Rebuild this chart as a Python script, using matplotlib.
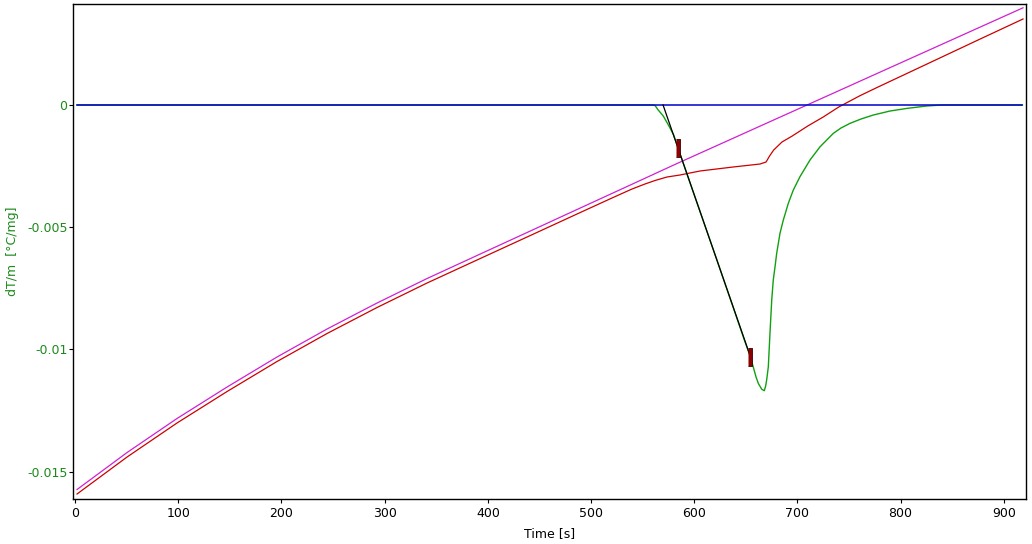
import numpy as np
import matplotlib
matplotlib.use("Agg")
import matplotlib.pyplot as plt

# magenta curve (reference / extrapolated)
t_mag = [1.9, 50.4, 98.8, 147.3, 195.7, 244.2, 292.6, 341.1, 389.5, 438.0,
         486.4, 534.9, 583.3, 631.8, 680.2, 728.7, 777.1, 825.6, 874.0, 918.6]
v_mag = [-0.015733, -0.014219, -0.012827, -0.011539, -0.010311, -0.009165,
         -0.008102, -0.007099, -0.006158, -0.005217, -0.004276, -0.003335,
         -0.002394, -0.001473, -0.000552, 0.000368, 0.001289, 0.002210,
         0.003130, 0.003977]

# red curve (sample)
t_red = [1.9, 50.4, 98.8, 147.3, 195.7, 244.2, 292.6, 341.1, 389.5, 438.0,
         486.4, 520.3, 539.7, 552.3, 562.0, 573.6, 586.2, 605.6, 637.6, 663.8,
         669.6, 673, 677, 685, 695, 710, 725, 740, 760, 777.1, 825.6, 874.0,
         918.6]
v_red = [-0.015917, -0.014403, -0.013011, -0.011723, -0.010495, -0.009349,
         -0.008286, -0.007283, -0.006342, -0.005401, -0.004460, -0.003805,
         -0.003437, -0.003232, -0.003089, -0.002946, -0.002864, -0.002700,
         -0.002537, -0.002414, -0.002332, -0.002087, -0.001841, -0.001514,
         -0.001268, -0.000859, -0.000491, -0.000082, 0.000368, 0.000716,
         0.001678, 0.002639, 0.003519]

# green curve (dT/m)
t_grn = [2, 560, 562, 565, 570, 575, 580, 590, 620, 649.2, 654.5, 659.9,
         662.1, 665.4, 667.9, 669.2, 670.2, 671.8, 673.4, 675.1, 676.6, 678.3,
         679.9, 683.1, 686.3, 691.2, 696.0, 702.5, 712.2, 721.9, 734.8, 742.2,
         751.0, 761.6, 773.5, 789.7, 805.9, 825.3, 840, 918]
v_grn = [0, 0, -0.00002, -0.00020, -0.00045, -0.00082, -0.00122, -0.00246,
         -0.00610, -0.00969, -0.01031, -0.01113, -0.01139, -0.01163, -0.01169,
         -0.01150, -0.01125, -0.01071, -0.00934, -0.00798, -0.00716, -0.00662,
         -0.00607, -0.00525, -0.00471, -0.00402, -0.00348, -0.00293, -0.00225,
         -0.00171, -0.00116, -0.000941, -0.00075, -0.000573, -0.00041,
         -0.000246, -0.00014, -0.00004, 0, 0]

# baseline
t_base = [2, 918]
v_base = [0, 0]

# tangent line
t_tan = [569.8, 654.0]
v_tan = [0, -0.01024]

# evaluation limits
t_mark = [583.8, 653.6]
v_mark = [-0.00174, -0.01031]

fig = plt.figure(figsize=(10.32, 5.44), dpi=100)
ax = fig.add_axes([73 / 1032, 45 / 544, 953 / 1032, 495 / 544])

lw = 0.9
ax.plot(t_mag, v_mag, color="#d020d0", lw=lw, zorder=2)
ax.plot(t_red, v_red, color="#cc0000", lw=lw, zorder=2)
ax.plot(t_grn, v_grn, color="#10a010", lw=1.0, zorder=2)
ax.plot(t_base, v_base, color="#0000cc", lw=1.1, zorder=3)
ax.plot(t_tan, v_tan, color="black", lw=lw, zorder=3)

bar = [(-0.09, -0.5), (0.09, -0.5), (0.09, 0.5), (-0.09, 0.5)]
ax.plot(t_mark, v_mark, ls="none", marker=bar, markersize=12.5, zorder=4,
        markerfacecolor="#8b0000", markeredgecolor="#3a0000", markeredgewidth=0.6)

ax.set_xlim(-2, 921.5)
ax.set_ylim(-0.016121, 0.004133)
ax.set_xticks(np.arange(0, 901, 100))
ax.set_yticks([-0.015, -0.01, -0.005, 0])
ax.set_yticklabels(["-0.015", "-0.01", "-0.005", "0"])

ax.tick_params(axis="both", direction="out", length=3, width=0.8, labelsize=9)
ax.tick_params(axis="y", labelcolor="#1a8a1a", pad=1)
ax.tick_params(axis="x", pad=3)

ax.set_xlabel("Time [s]", fontsize=9, labelpad=5)
ax.set_ylabel("dT/m  [°C/mg]", fontsize=9, color="#1a8a1a", labelpad=6)

for s in ax.spines.values():
    s.set_linewidth(1.0)

fig.savefig("out.png", dpi=100)
